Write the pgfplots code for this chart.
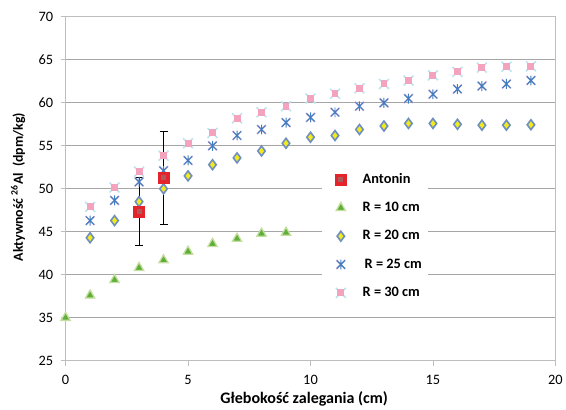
\documentclass[border=0pt]{standalone}
\usepackage{fontspec}
\setmainfont{Carlito}
\usepackage{pgfplots}
\pgfplotsset{compat=1.18}
\definecolor{gridgray}{HTML}{A6A6A6}
\definecolor{axgray}{HTML}{BEBEBE}
\definecolor{antred}{HTML}{E3242B}
\definecolor{antinner}{HTML}{B0585A}
\definecolor{trigreen}{HTML}{5FAE3A}
\definecolor{tripale}{HTML}{C4DE9E}
\definecolor{diablue}{HTML}{6F8FC0}
\definecolor{diayel}{HTML}{F2EA1C}
\definecolor{astblue}{HTML}{3F7FC0}
\definecolor{astlav}{HTML}{C0A8D8}
\definecolor{pinkfill}{HTML}{F4A3BF}
\definecolor{cyanx}{HTML}{BDE3EE}

% Antonin: red square with a darker centre
\pgfdeclareplotmark{antonin}{%
  \pgfpathrectangle{\pgfpoint{-6bp}{-6bp}}{\pgfpoint{12bp}{12bp}}%
  \pgfsetfillcolor{antred}\pgfusepath{fill}%
  \pgfpathrectangle{\pgfpoint{-2.5bp}{-2.5bp}}{\pgfpoint{5bp}{5bp}}%
  \pgfsetfillcolor{antinner}\pgfusepath{fill}}
% R = 25: blue asterisk over a lavender x
\pgfdeclareplotmark{rtwentyfive}{%
  \pgfsetlinewidth{1.6bp}\pgfsetstrokecolor{astlav}%
  \pgfpathmoveto{\pgfpoint{-4.5bp}{-4.5bp}}\pgfpathlineto{\pgfpoint{4.5bp}{4.5bp}}%
  \pgfpathmoveto{\pgfpoint{-4.5bp}{4.5bp}}\pgfpathlineto{\pgfpoint{4.5bp}{-4.5bp}}%
  \pgfusepath{stroke}%
  \pgfsetlinewidth{1bp}\pgfsetstrokecolor{astblue}%
  \pgfpathmoveto{\pgfpoint{0bp}{-5bp}}\pgfpathlineto{\pgfpoint{0bp}{5bp}}%
  \pgfpathmoveto{\pgfpoint{-4bp}{-4bp}}\pgfpathlineto{\pgfpoint{4bp}{4bp}}%
  \pgfpathmoveto{\pgfpoint{-4bp}{4bp}}\pgfpathlineto{\pgfpoint{4bp}{-4bp}}%
  \pgfusepath{stroke}}
% R = 30: pink square over a pale cyan x
\pgfdeclareplotmark{rthirty}{%
  \pgfsetlinewidth{1.6bp}\pgfsetstrokecolor{cyanx}%
  \pgfpathmoveto{\pgfpoint{-5bp}{-5bp}}\pgfpathlineto{\pgfpoint{5bp}{5bp}}%
  \pgfpathmoveto{\pgfpoint{-5bp}{5bp}}\pgfpathlineto{\pgfpoint{5bp}{-5bp}}%
  \pgfusepath{stroke}%
  \pgfpathrectangle{\pgfpoint{-3.5bp}{-3.5bp}}{\pgfpoint{7bp}{7bp}}%
  \pgfsetfillcolor{pinkfill}\pgfusepath{fill}}

\begin{document}
\begin{tikzpicture}
\begin{axis}[
    at={(0,0)}, anchor=south west,
    scale only axis,
    width=493bp, height=346bp,
    xmin=0, xmax=20,
    ymin=30, ymax=70,
    xtick={0,5,10,15,20},
    xticklabels={0,5,10,15,20},
    ytick={30,35,40,45,50,55,60,65,70},
    yticklabels={25,35,40,45,50,55,60,65,70},
    xtick pos=left, ytick pos=left,
    tick align=outside,
    major tick length=5bp,
    tick style={axgray, line width=0.8bp},
    axis line style={axgray, line width=1bp},
    ymajorgrids,
    grid style={gridgray, line width=1.1bp},
    ticklabel style={font=\fontsize{14.5}{17}\selectfont},
    yticklabel style={xshift=-4bp},
    xticklabel style={yshift=-6bp},
    xlabel={Głebokość zalegania (cm)},
    ylabel={Aktywność \textsuperscript{26}Al\ \ (dpm/kg)},
    xlabel style={font=\bfseries\fontsize{16.2}{19}\selectfont,
        at={(axis description cs:0.487,-0.112)}, anchor=center},
    ylabel style={font=\bfseries\fontsize{14}{17}\selectfont,
        at={(axis description cs:-0.097,0.505)}, anchor=center},
    legend cell align=left,
    legend style={
        at={(rel axis cs:0.523,0.57)}, anchor=north west,
        draw=none, fill=white,
        font=\bfseries\fontsize{14.5}{17}\selectfont,
        inner xsep=6bp, inner ysep=8bp,
        row sep=15bp,
        nodes={inner sep=0pt, text height=10.5bp, text depth=3bp},
        column sep=0bp,
    },
    legend image code/.code={%
        \path[draw=none, fill=none] (-13bp,-4bp) rectangle (22bp,4bp);
        \draw[#1] plot coordinates {(0bp,0bp)};},
    clip=false,
]

% legend entry for Antonin first; the series itself is drawn last
\addlegendimage{only marks, mark=antonin}
\addlegendentry{Antonin}

% R = 10 cm
\addplot[only marks, mark=triangle*, mark size=5.4bp,
    mark options={fill=trigreen, draw=tripale, line width=1.3bp}]
    coordinates {
        (0,35.0) (1,37.6) (2,39.4) (3,40.8) (4,41.7)
        (5,42.7) (6,43.6) (7,44.2) (8,44.8) (9,44.9)
    };
\addlegendentry{R = 10 cm}

% R = 20 cm
\addplot[only marks, mark=diamond*, mark size=5bp,
    mark options={fill=diayel, draw=diablue, line width=1.6bp}]
    coordinates {
        (1,44.3) (2,46.3) (3,48.5) (4,50.0) (5,51.5)
        (6,52.8) (7,53.6) (8,54.4) (9,55.3) (10,56.0)
        (11,56.2) (12,56.9) (13,57.3) (14,57.6) (15,57.6)
        (16,57.5) (17,57.4) (18,57.4) (19,57.45)
    };
\addlegendentry{R = 20 cm}

% R = 25 cm
\addplot[only marks, mark=rtwentyfive]
    coordinates {
        (1,46.3) (2,48.65) (3,50.8) (4,52.1) (5,53.3)
        (6,55.0) (7,56.2) (8,56.9) (9,57.7) (10,58.3)
        (11,58.9) (12,59.6) (13,60.0) (14,60.5) (15,61.0)
        (16,61.6) (17,61.95) (18,62.2) (19,62.6)
    };
\addlegendentry{\hspace{2bp}R = 25 cm}

% R = 30 cm
\addplot[only marks, mark=rthirty]
    coordinates {
        (1,47.9) (2,50.15) (3,52.0) (4,53.85) (5,55.3)
        (6,56.5) (7,58.2) (8,58.9) (9,59.6) (10,60.5)
        (11,61.05) (12,61.7) (13,62.2) (14,62.6) (15,63.2)
        (16,63.6) (17,64.1) (18,64.2) (19,64.25)
    };
\addlegendentry{R = 30 cm}

% Antonin with error bars
\addplot[only marks, mark=antonin, forget plot,
    error bars/.cd, y dir=both, y explicit,
    error bar style={black, line width=1bp},
    error mark options={rotate=90, black, mark size=4bp, line width=1bp}]
    coordinates {
        (3,47.35) +- (0,3.95)
        (4,51.3) +- (0,5.4)
    };

% right border of the plot area
\draw[axgray, line width=1bp] (rel axis cs:1,0) -- (rel axis cs:1,1);
\end{axis}
\path[use as bounding box] (-66bp,-45bp) rectangle (500bp,363bp);
\end{tikzpicture}
\end{document}
